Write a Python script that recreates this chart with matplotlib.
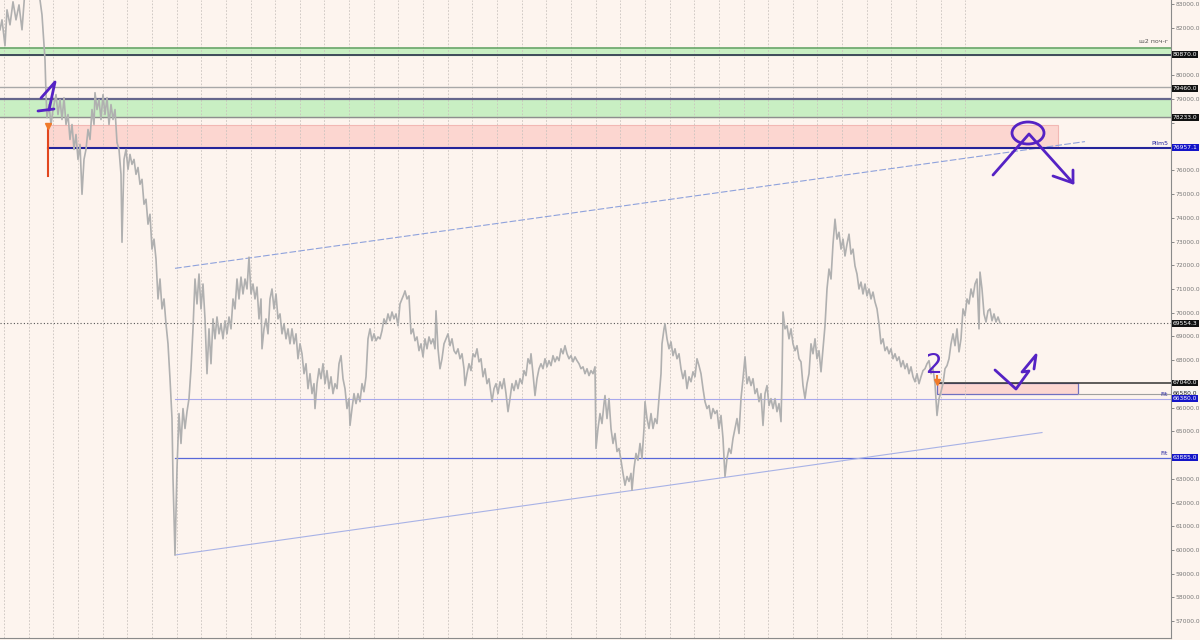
import matplotlib
matplotlib.use("Agg")
import matplotlib.pyplot as plt
from matplotlib.patches import Ellipse, Rectangle
from matplotlib.transforms import IdentityTransform

# bar index (hours) and price
bar = [0, 2, 5, 7, 10, 13, 16, 19, 22, 25, 28, 33, 38, 40, 42, 44, 45, 46, 47, 49,
       51, 53, 56, 58, 60, 62, 64, 66, 68, 70, 72, 74, 76, 78, 80, 82, 84, 86, 88, 90,
       92, 94, 95, 97, 99, 101, 103, 105, 107, 109, 111, 113, 115, 117, 119, 121, 122, 124, 126, 128,
       130, 132, 134, 136, 138, 140, 142, 144, 146, 148, 150, 152, 154, 156, 158, 160, 162, 164, 166, 168,
       170, 172, 173, 175, 177, 179, 181, 183, 185, 187, 189, 191, 193, 195, 197, 199, 201, 203, 205, 207,
       209, 211, 213, 215, 217, 219, 221, 223, 225, 227, 229, 231, 233, 235, 237, 239, 241, 243, 245, 247,
       249, 251, 253, 255, 257, 259, 261, 262, 264, 266, 268, 270, 272, 274, 276, 278, 280, 282, 284, 286,
       288, 290, 292, 294, 296, 298, 300, 302, 304, 306, 308, 310, 312, 314, 315, 317, 319, 321, 323, 325,
       327, 329, 331, 333, 335, 337, 339, 341, 343, 345, 347, 349, 350, 352, 354, 356, 358, 360, 362, 364,
       366, 368, 370, 372, 374, 376, 378, 380, 382, 384, 386, 388, 390, 392, 394, 396, 398, 400, 402, 404,
       405, 407, 409, 411, 413, 415, 417, 419, 421, 423, 425, 427, 429, 431, 433, 435, 436, 438, 440, 442,
       444, 446, 448, 450, 452, 454, 456, 458, 460, 462, 464, 465, 467, 469, 471, 473, 475, 477, 479, 481,
       483, 485, 487, 489, 491, 492, 494, 496, 498, 500, 502, 504, 506, 508, 510, 512, 514, 516, 518, 520,
       522, 524, 526, 528, 530, 531, 533, 535, 537, 539, 541, 543, 545, 547, 549, 551, 553, 555, 557, 559,
       561, 563, 565, 567, 569, 571, 573, 575, 577, 579, 581, 583, 585, 587, 589, 591, 593, 595, 596, 598,
       600, 602, 604, 605, 607, 609, 611, 613, 615, 617, 619, 621, 623, 625, 627, 629, 631, 632, 634, 636,
       638, 640, 642, 644, 645, 647, 649, 651, 653, 655, 657, 659, 661, 662, 664, 665, 667, 669, 671, 673,
       675, 677, 679, 681, 683, 685, 687, 689, 691, 693, 695, 697, 699, 701, 703, 705, 707, 709, 711, 713,
       715, 717, 719, 721, 723, 725, 727, 729, 731, 733, 735, 737, 739, 741, 743, 745, 747, 749, 751, 753,
       755, 757, 759, 761, 763, 765, 767, 769, 771, 773, 775, 777, 779, 781, 782, 783, 785, 787, 789, 791,
       793, 795, 797, 799, 801, 803, 805, 807, 809, 811, 813, 815, 817, 819, 821, 823, 825, 827, 829, 831,
       833, 835, 837, 839, 841, 843, 845, 847, 849, 851, 853, 855, 857, 859, 861, 863, 865, 867, 869, 871,
       873, 875, 877, 879, 881, 883, 885, 887, 889, 891, 893, 895, 897, 899, 901, 903, 905, 907, 909, 911,
       913, 915, 917, 919, 921, 923, 925, 927, 929, 931, 933, 935, 937, 939, 941, 943, 945, 947, 949, 951,
       953, 955, 957, 959, 961, 963, 965, 967, 969, 971, 973, 975, 977, 979, 980, 982, 984, 986, 988, 990,
       992, 994, 996, 998, 1000]

price = [81920, 82340, 81250, 82760, 82130, 83100, 82340, 82970, 81920, 83600, 83810, 83600, 83390, 83180, 82550, 81290, 80660, 79190, 78220, 78770,
         77930, 78560, 79190, 78350, 78980, 78140, 79060, 77930, 78350, 77300, 77930, 76880, 77510, 76460, 77090, 74990, 76460, 76880, 77720, 77300,
         78560, 77930, 79270, 78560, 78980, 78140, 79190, 78350, 79060, 77930, 78770, 78140, 78560, 77170, 76880, 75830, 72970, 76460, 76880, 76040,
         76670, 76250, 76460, 75830, 76120, 75410, 75620, 74570, 74780, 73730, 74150, 72680, 73100, 72260, 70580, 71420, 70160, 70580, 69530, 68690,
         67220, 65540, 63020, 59790, 63440, 65750, 64490, 65960, 65120, 65830, 66380, 67640, 69320, 71420, 70370, 71630, 70160, 71210, 69740, 67430,
         69320, 67850, 69740, 68900, 69820, 69110, 69530, 68900, 69660, 69110, 69820, 69320, 70580, 70160, 71420, 70580, 71500, 70790, 71420, 71000,
         72340, 70790, 71210, 70580, 71080, 69740, 70580, 68480, 69320, 69740, 69110, 70580, 71000, 70160, 70790, 69740, 69950, 69110, 69530, 68900,
         69320, 68690, 69320, 68690, 69110, 68060, 68690, 68270, 67430, 67850, 66800, 67430, 66590, 67010, 65960, 67010, 67640, 67220, 67850, 67010,
         67560, 66800, 67300, 66590, 67010, 66800, 67850, 68190, 67220, 66800, 65960, 66380, 65250, 65960, 66590, 66170, 66590, 66250, 67010, 66670,
         67300, 68900, 69320, 68820, 69110, 68820, 68980, 68900, 69240, 69740, 69530, 69950, 69660, 70030, 69740, 69950, 69450, 70370, 70580, 70790,
         70920, 70580, 70710, 69110, 69320, 68820, 68980, 68400, 68690, 68140, 68900, 68480, 68980, 68690, 68900, 68480, 70080, 68480, 67640, 68060,
         68690, 68900, 69110, 68610, 68900, 68400, 68270, 68480, 68060, 68270, 67640, 66930, 67430, 67850, 67560, 68270, 68140, 68480, 67930, 68060,
         67300, 67640, 67010, 67220, 66590, 66250, 66800, 67010, 66590, 67090, 66800, 67220, 66590, 65830, 66380, 67010, 66720, 67140, 66800, 67220,
         67010, 67560, 67350, 68060, 67850, 68270, 67430, 66510, 67220, 67640, 67850, 67640, 68060, 67720, 67980, 67770, 68190, 67930, 68140, 67980,
         68480, 68270, 68610, 68270, 68060, 68190, 67930, 68140, 67980, 67850, 67640, 67720, 67430, 67640, 67350, 67560, 67430, 67720, 64280, 65120,
         65750, 65330, 66170, 66510, 65540, 66380, 65120, 64490, 64910, 64150, 64280, 63780, 63230, 62730, 63100, 62890, 63230, 62520, 63440, 64070,
         63780, 64490, 63860, 65120, 66250, 65540, 65120, 65750, 65120, 65540, 65330, 66380, 67430, 68690, 69320, 69530, 68900, 68480, 68770, 68190,
         68480, 68060, 68270, 67640, 67220, 67560, 66800, 67300, 67090, 67510, 67300, 68060, 67770, 67430, 66800, 66250, 65960, 66090, 65540, 65960,
         65750, 65880, 65120, 65670, 64700, 63100, 63860, 64280, 64070, 64700, 65120, 65540, 64910, 66380, 67220, 68140, 67010, 67300, 66930, 67220,
         66590, 66800, 66250, 66590, 65250, 66590, 66930, 66090, 66380, 65960, 66380, 65830, 66170, 65410, 67220, 70030, 69320, 69450, 68900, 69320,
         68690, 68400, 68610, 68060, 67930, 66930, 66380, 67010, 67430, 68690, 68270, 68900, 68060, 68400, 67510, 68480, 69450, 71000, 71840, 71420,
         72890, 73940, 73100, 73390, 72680, 73100, 72390, 72890, 73310, 72470, 72680, 71970, 71630, 71000, 71290, 70790, 71210, 70710, 71000, 70580,
         70870, 70450, 70160, 69530, 68690, 68900, 68400, 68560, 68270, 68480, 68060, 68270, 67980, 68140, 67720, 67980, 67640, 67850, 67430, 67720,
         67300, 67090, 67430, 67010, 67300, 67560, 67640, 67850, 67980, 67430, 67640, 67010, 65670, 66380, 66670, 67010, 67640, 67770, 68060, 68690,
         69110, 68610, 69320, 68350, 68900, 70160, 69870, 70580, 70370, 71000, 70660, 71210, 71420, 69320, 71710, 71000, 69950, 69610, 70080, 70160,
         69660, 69950, 69610, 69820, 69570]

last_price = 69554.3

# zones and levels
green_top = (80865, 81159)
green_mid = (78260, 79016)
grey_level = 79520
sell_zone = (76957, 77924)
sell_zone_bars = (48, 1058)
buy_zone = (66580, 67040)
buy_zone_bars = (937, 1078)
fit_hi = 66380
fit_lo = 63890
fit_start = 175
red_wick = (75740, 77924)
channel_up = ([175, 1085], [71870, 77210])
channel_dn = ([175, 1042], [59790, 64950])

ticks = list(range(57000, 84000, 1000))
tag_labels = [(80870, "80870.0", "#111111", "white"),
              (79460, "79460.0", "#111111", "white"),
              (78233, "78233.0", "#111111", "white"),
              (76957, "76957.1", "#1414c8", "white"),
              (last_price, "69554.3", "#111111", "white"),
              (67040, "67040.0", "#111111", "white"),
              (66580, "66580.0", "#f4f4f4", "#222222"),
              (fit_hi, "66380.0", "#1414c8", "white"),
              (fit_lo, "63885.0", "#1414c8", "white")]

bg = "#fdf4ee"
pen = "#5522c4"

fig = plt.figure(figsize=(12, 6.4), dpi=100)
fig.patch.set_facecolor(bg)
ax = fig.add_axes([0, 0.003, 1171 / 1200, 0.997])
ax.set_facecolor(bg)
x_end = 1171
ax.set_xlim(0, x_end)
ax.set_ylim(56290, 83176)

# time grid
ax.set_xticks([4 + 24.65 * k for k in range(40)])
ax.tick_params(axis="x", length=0, labelbottom=False)
ax.grid(axis="x", color="#c9c2bd", lw=0.6, linestyle=(0, (2, 2)))

# price scale, labels hidden where a tag covers them
shown = [t for t in ticks if all(abs(t - v) > 250 for v, *_ in tag_labels)]
ax.yaxis.tick_right()
ax.set_yticks(ticks)
ax.set_yticklabels([f"{t:.1f}" if t in shown else "" for t in ticks])
ax.tick_params(axis="y", labelsize=4.3, colors="#777777", length=2, width=0.6, pad=1)
for s in ["top", "left"]:
    ax.spines[s].set_visible(False)
ax.spines["right"].set_color("#8a8a8a")
ax.spines["bottom"].set_color("#8a8a8a")

# zones
ax.axhspan(*green_top, color="#c9efc3", zorder=1)
ax.axhline(green_top[1], color="#6aa56a", lw=1.2, zorder=2)
ax.axhline(green_top[0], color="#3f4a5a", lw=1.4, zorder=2)
ax.axhline(grey_level, color="#a8a8a8", lw=1.0, zorder=2)
ax.axhspan(*green_mid, color="#c9efc3", zorder=1)
ax.axhline(green_mid[1], color="#66668c", lw=1.6, zorder=2)
ax.axhline(green_mid[0], color="#8e8e8e", lw=1.0, zorder=2)

ax.add_patch(Rectangle((sell_zone_bars[0], sell_zone[0]), sell_zone_bars[1] - sell_zone_bars[0],
                       sell_zone[1] - sell_zone[0], fc="#fcd6d0", ec="#f2b8b4", lw=0.8, zorder=1))
ax.plot([sell_zone_bars[0], x_end], [sell_zone[0]] * 2, color="#24249a", lw=1.5, zorder=3)

ax.add_patch(Rectangle((buy_zone_bars[0], buy_zone[0]), buy_zone_bars[1] - buy_zone_bars[0],
                       buy_zone[1] - buy_zone[0], fc="#fcd6d0", ec="#7070c0", lw=0.9, zorder=1))
ax.plot([buy_zone_bars[0], x_end], [buy_zone[1]] * 2, color="#333333", lw=1.1, zorder=3)
ax.plot([buy_zone_bars[1], x_end], [buy_zone[0]] * 2, color="#a0a0a0", lw=0.8, zorder=3)

ax.plot([fit_start, x_end], [fit_hi] * 2, color="#a8a8ec", lw=0.8, zorder=2)
ax.plot([fit_start, x_end], [fit_lo] * 2, color="#5868d8", lw=0.9, zorder=2)

ax.plot(*channel_up, color="#8fa2dc", lw=0.8, linestyle=(0, (6, 2)), zorder=2)
ax.plot(*channel_dn, color="#a8b2e6", lw=0.8, zorder=2)

ax.axhline(last_price, color="#555555", lw=0.8, linestyle=(0, (1, 2)), zorder=2)

# price
ax.plot(bar, price, color="#b0b0b0", lw=1.2, zorder=4)

# entry marks
ax.plot([sell_zone_bars[0]] * 2, red_wick, color="#e2461e", lw=1.5, zorder=5)
ax.plot(sell_zone_bars[0], sell_zone[1] - 60, marker="v", ms=4, color="#f07a2a", zorder=6)
ax.plot([buy_zone_bars[0]] * 2, [buy_zone[1], buy_zone[1] + 280], color="#f07a2a", lw=1.5, zorder=6)
ax.plot(buy_zone_bars[0], buy_zone[1] + 40, marker="v", ms=4, color="#f07a2a", zorder=6)

# labels on the chart
ax.text(1168, green_top[1] + 150, "ш2 поч-г", fontsize=4.5, color="#555555", ha="right", va="bottom")
ax.text(1168, sell_zone[0] + 60, "Pilm5", fontsize=4.5, color="#2020a0", ha="right", va="bottom")
ax.text(1168, fit_hi + 60, "Fit", fontsize=4.5, color="#2020a0", ha="right", va="bottom")
ax.text(1168, fit_lo + 60, "Fit", fontsize=4.5, color="#2020a0", ha="right", va="bottom")

for val, txt, fc, tc in tag_labels:
    ax.text(1173, val, txt, fontsize=4.3, color=tc, ha="left", va="center", clip_on=False, zorder=8,
            bbox=dict(boxstyle="square,pad=0.15", fc=fc, ec="none"))

# hand drawn marks (image pixels)
def strokes(pts):
    xs = [p[0] for p in pts]
    ys = [640 - p[1] for p in pts]
    fig.add_artist(plt.Line2D(xs, ys, color=pen, lw=2, transform=IdentityTransform(),
                              solid_capstyle="round", solid_joinstyle="round", zorder=20))

strokes([(41, 98), (55, 82), (49, 110)])
strokes([(38, 111), (54, 109)])
fig.text(925, 640 - 373, "2", fontsize=19, color=pen, transform=IdentityTransform(), zorder=20)
fig.add_artist(Ellipse((1028, 640 - 133), 32, 22, fill=False, ec=pen, lw=2,
                       transform=IdentityTransform(), zorder=20))
strokes([(993, 175), (1029, 134), (1073, 183)])
strokes([(1053, 176), (1073, 183), (1073, 170)])
strokes([(995, 370), (1016, 389), (1029, 371), (1022, 372), (1036, 355), (1034, 369)])

fig.savefig("out.png", dpi=100, facecolor=bg)
